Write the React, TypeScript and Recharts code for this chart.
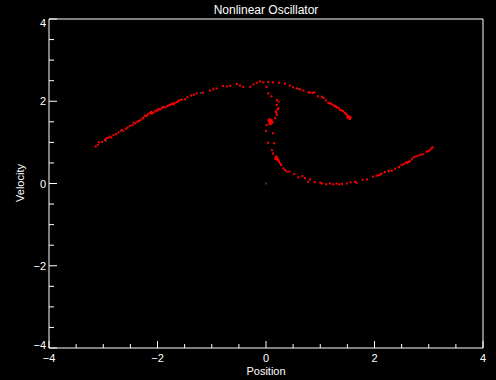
import React from "react";
import { ScatterChart, Scatter, XAxis, YAxis } from "recharts";

// phase-space samples (position, velocity)
const leftArm = [
  [-3.14, 0.9], [-3.1, 0.94], [-3.08, 1.0], [-3.02, 1.01], [-2.97, 1.06], [-2.91, 1.11],
  [-2.85, 1.12], [-2.81, 1.18], [-2.76, 1.2], [-2.72, 1.24], [-2.63, 1.28], [-2.58, 1.33],
  [-2.51, 1.4], [-2.46, 1.42], [-2.41, 1.46], [-2.37, 1.5], [-2.32, 1.54], [-2.28, 1.58],
  [-2.23, 1.65], [-2.2, 1.64], [-2.14, 1.71], [-2.1, 1.7], [-2.05, 1.75], [-2.0, 1.77],
  [-1.95, 1.8], [-1.92, 1.84], [-1.86, 1.85], [-1.82, 1.88], [-1.77, 1.91], [-1.74, 1.93],
  [-1.68, 1.96], [-1.64, 1.98], [-1.59, 2.03], [-1.49, 2.05], [-1.38, 2.14], [-1.28, 2.19],
  [-1.16, 2.21], [-1.03, 2.26], [-0.91, 2.31], [-0.79, 2.37], [-0.66, 2.37], [-0.54, 2.42],
  [-0.42, 2.35], [-0.29, 2.35], [-0.17, 2.45], [-0.11, 2.48], [0.01, 2.35], [0.04, 2.47],
  [0.13, 2.46], [-2.95, 1.09], [-2.88, 1.14], [-2.66, 1.3], [-2.55, 1.36], [-2.44, 1.48],
  [-2.35, 1.52], [-2.26, 1.6], [-2.18, 1.68], [-2.12, 1.74], [-2.08, 1.72], [-2.02, 1.78],
  [-1.98, 1.81], [-1.9, 1.86], [-1.8, 1.9], [-1.72, 1.95], [-1.7, 1.92], [-1.62, 2.0],
  [-1.55, 2.04], [-1.45, 2.1], [-1.33, 2.16], [-0.97, 2.29], [-0.72, 2.36], [-0.48, 2.38],
  [-0.23, 2.41], [-0.05, 2.46],
];

const rightHook = [
  [0.35, 2.43], [0.5, 2.34], [0.57, 2.31], [0.69, 2.26], [0.78, 2.22], [0.81, 2.21],
  [0.89, 2.22], [0.96, 2.12], [1.03, 2.11], [1.06, 2.08], [1.15, 1.96], [1.18, 1.95],
  [1.21, 1.93], [1.27, 1.88], [1.31, 1.85], [1.34, 1.84], [1.36, 1.79], [1.42, 1.76],
  [1.45, 1.72], [1.49, 1.67], [1.52, 1.64], [1.55, 1.59], [1.53, 1.62], [1.5, 1.6],
  [0.24, 2.45], [0.44, 2.38], [0.63, 2.29], [0.86, 2.2], [1.1, 2.02], [1.24, 1.9],
  [1.29, 1.87], [1.39, 1.78], [1.47, 1.69], [1.51, 1.63], [1.56, 1.61], [1.54, 1.57],
];

const innerFold = [
  [0.04, 2.19], [0.1, 2.12], [0.2, 2.03], [0.23, 1.99], [0.2, 1.91], [0.23, 1.83],
  [0.18, 1.75], [0.2, 1.67], [0.17, 1.59], [0.07, 1.53], [0.06, 1.57], [0.09, 1.52],
  [0.11, 1.47], [0.06, 1.45], [0.07, 1.5], [0.1, 1.55], [0.01, 1.42], [0.0, 1.28],
  [0.13, 1.22], [0.04, 0.99], [0.15, 0.98], [0.11, 0.81], [0.13, 0.73], [0.18, 0.64],
  [0.17, 0.6], [0.21, 0.62], [0.23, 0.57], [0.26, 0.49], [0.24, 0.53], [0.32, 0.37],
  [0.38, 0.29], [0.43, 0.29], [0.52, 0.23], [0.6, 0.15], [0.08, 1.48], [0.12, 1.5],
  [0.05, 1.52], [0.09, 1.45], [0.21, 1.8], [0.19, 1.72], [0.2, 0.58], [0.19, 0.66],
  [0.28, 0.45], [0.35, 0.33],
];

const bottomArm = [
  [0.67, 0.18], [0.72, 0.13], [0.78, 0.04], [0.81, 0.1], [0.9, 0.03], [1.03, 0.0],
  [1.11, -0.02], [1.18, 0.0], [1.24, -0.02], [1.3, 0.0], [1.4, -0.01], [1.49, 0.0],
  [1.56, 0.03], [1.64, 0.04], [1.67, 0.02], [1.78, 0.09], [1.86, 0.1], [1.97, 0.17],
  [2.04, 0.19], [2.11, 0.22], [2.19, 0.28], [2.32, 0.31], [2.38, 0.36], [2.5, 0.45],
  [2.54, 0.47], [2.58, 0.51], [2.62, 0.52], [2.65, 0.55], [2.73, 0.64], [2.81, 0.68],
  [2.89, 0.71], [2.96, 0.77], [3.02, 0.81], [3.07, 0.88], [3.05, 0.85], [2.08, 0.2],
  [2.27, 0.3], [2.45, 0.4], [2.6, 0.5], [2.69, 0.6], [2.77, 0.66], [2.85, 0.7],
  [2.99, 0.79], [2.64, 0.53], [2.13, 0.24], [1.0, 0.02], [1.35, -0.02],
];

const dimPoints = [
  [0.0, 0.0], [-2.95, 1.04], [-2.68, 1.27], [-1.2, 2.2], [0.6, 2.3], [2.25, 0.3],
];

const xTicks = [-4, -3.5, -3, -2.5, -2, -1.5, -1, -0.5, 0, 0.5, 1, 1.5, 2, 2.5, 3, 3.5, 4];
const yTicks = [-4, -3.5, -3, -2.5, -2, -1.5, -1, -0.5, 0, 0.5, 1, 1.5, 2, 2.5, 3, 3.5, 4];
const labelTicks = [-4, -2, 0, 2, 4];

const toPts = (arr: number[][]) => arr.map(([x, y]) => ({ x, y }));
const redData = toPts([...leftArm, ...rightHook, ...innerFold, ...bottomArm]);
const dimData = toPts(dimPoints);

const FONT = "'Liberation Sans', Arial, sans-serif";
const fmt = (v: number) => (v < 0 ? "\u2212" + Math.abs(v) : String(v));
const isMajor = (v: number) => labelTicks.includes(v);

const BottomTick = ({ x, y, payload }: any) => {
  const major = isMajor(payload.value);
  return (
    <g>
      <line x1={x} x2={x} y1={y} y2={y - (major ? 7 : 4)} stroke="#fff" />
      {major && (
        <text x={x} y={y + 14} fill="#fff" fontSize={11} fontFamily={FONT} textAnchor="middle">
          {fmt(payload.value)}
        </text>
      )}
    </g>
  );
};

const TopTick = ({ x, y, payload }: any) => (
  <line x1={x} x2={x} y1={y} y2={y + (isMajor(payload.value) ? 7 : 4)} stroke="#fff" />
);

const LeftTick = ({ x, y, payload }: any) => {
  const major = isMajor(payload.value);
  const v = payload.value;
  const dy = v === 4 ? 8 : v === -4 ? 1 : 4;
  return (
    <g>
      <line x1={x} x2={x + (major ? 8 : 5)} y1={y} y2={y} stroke="#fff" />
      {major && (
        <text x={x - 3} y={y + dy} fill="#fff" fontSize={11} fontFamily={FONT} textAnchor="end">
          {fmt(v)}
        </text>
      )}
    </g>
  );
};

const RightTick = ({ x, y, payload }: any) => (
  <line x1={x} x2={x - (isMajor(payload.value) ? 8 : 5)} y1={y} y2={y} stroke="#fff" />
);

const dot = (color: string) => (props: any) => (
  <rect x={props.cx - 1} y={props.cy - 1} width={2} height={2} fill={color} />
);

export default function App() {
  return (
    <div style={{ position: "absolute", left: 0, top: 0, width: 496, height: 380, background: "#000" }}>
      <ScatterChart width={496} height={380} margin={{ top: 18, right: 12, bottom: 0, left: 0 }}>
        <XAxis
          xAxisId="b"
          type="number"
          dataKey="x"
          domain={[-4, 4]}
          ticks={xTicks}
          interval={0}
          height={32}
          tickSize={0}
          tickMargin={0}
          tickLine={false}
          axisLine={{ stroke: "#fff" }}
          tick={<BottomTick />}
        />
        <XAxis
          xAxisId="t"
          orientation="top"
          type="number"
          dataKey="x"
          domain={[-4, 4]}
          ticks={xTicks}
          interval={0}
          height={1}
          tickSize={0}
          tickMargin={0}
          tickLine={false}
          axisLine={{ stroke: "#fff" }}
          tick={<TopTick />}
        />
        <YAxis
          yAxisId="l"
          type="number"
          dataKey="y"
          domain={[-4, 4]}
          ticks={yTicks}
          interval={0}
          width={49}
          tickSize={0}
          tickMargin={0}
          tickLine={false}
          axisLine={{ stroke: "#fff" }}
          tick={<LeftTick />}
        />
        <YAxis
          yAxisId="r"
          orientation="right"
          type="number"
          dataKey="y"
          domain={[-4, 4]}
          ticks={yTicks}
          interval={0}
          width={1}
          tickSize={0}
          tickMargin={0}
          tickLine={false}
          axisLine={{ stroke: "#fff" }}
          tick={<RightTick />}
        />
        <Scatter xAxisId="b" yAxisId="l" data={dimData} shape={dot("#3a3a3a")} isAnimationActive={false} />
        <Scatter xAxisId="b" yAxisId="l" data={redData} shape={dot("#ff0000")} isAnimationActive={false} />
        <text x={266} y={14} fill="#fff" fontSize={12} fontFamily={FONT} textAnchor="middle">
          Nonlinear Oscillator
        </text>
        <text x={266} y={375} fill="#fff" fontSize={11} fontFamily={FONT} textAnchor="middle">
          Position
        </text>
        <text
          x={24}
          y={183}
          fill="#fff"
          fontSize={11}
          fontFamily={FONT}
          textAnchor="middle"
          transform="rotate(-90, 24, 183)"
        >
          Velocity
        </text>
      </ScatterChart>
    </div>
  );
}
